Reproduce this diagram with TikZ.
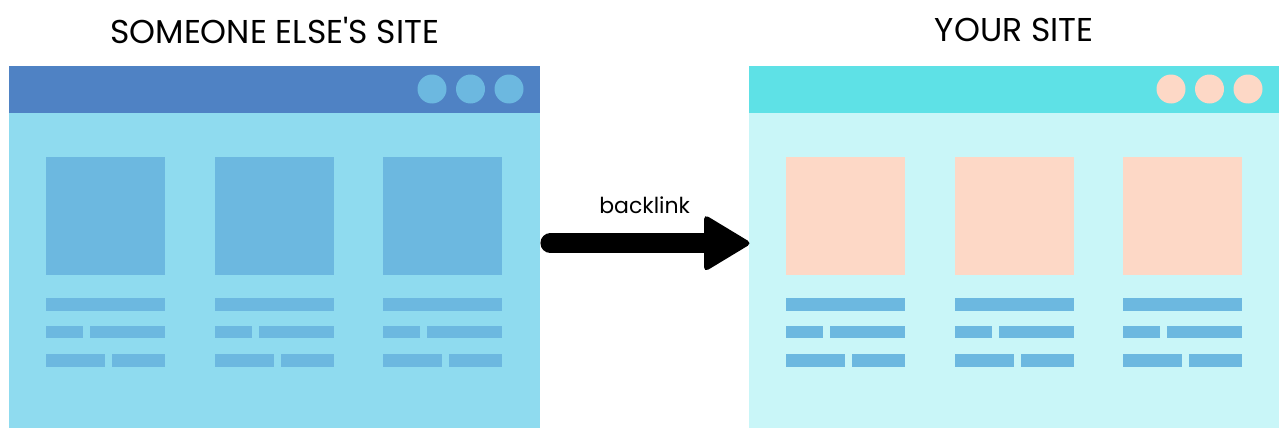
\documentclass[tikz,border=0pt]{standalone}
\usepackage{fontspec}
\setmainfont{Poppins}
\usetikzlibrary{positioning,calc}

\definecolor{otherbar}{HTML}{4F82C4}
\definecolor{otherbody}{HTML}{8FDBEF}
\definecolor{mybar}{HTML}{5EE1E6}
\definecolor{mybody}{HTML}{C9F6F8}
\definecolor{tileblue}{HTML}{6CB8E0}
\definecolor{tilepeach}{HTML}{FDD8C6}

\tikzset{
  window/.style={rectangle, inner sep=0pt, minimum height=362pt, anchor=north west},
  sitetitle/.style={font=\fontsize{33}{37}\selectfont, text=black},
  linklabel/.style={font=\fontsize{22}{26}\selectfont, text=black},
}

% one browser window: left x, width, bar colour, tile colour
\newcommand{\sitewindow}[4]{
  \fill[#3] (#1,66) rectangle ++(#2,47);
  \foreach \d in {1,2,3}
    \fill[#4] (#1+#2-\d*38.5+7.5,89) circle (14.5pt);
  \foreach \c in {37,206,374} {
    \fill[#4] (#1+\c,157) rectangle ++(119,118);
    % text lines
    \fill[tileblue] (#1+\c,298) rectangle ++(119,13);
    \fill[tileblue] (#1+\c,326) rectangle ++(37,12);
    \fill[tileblue] (#1+\c+44,326) rectangle ++(75,12);
    \fill[tileblue] (#1+\c,354) rectangle ++(59,13);
    \fill[tileblue] (#1+\c+66,354) rectangle ++(53,13);
  }
}

\begin{document}
\begin{tikzpicture}[x=1pt,y=-1pt]
  \useasboundingbox[fill=white] (0,0) rectangle (1279,428);

  \node[window, minimum width=531pt, fill=otherbody] (other) at (9,66) {};
  \node[window, minimum width=530pt, fill=mybody] (mine) at (749,66) {};
  \sitewindow{9}{531}{otherbar}{tileblue}
  \sitewindow{749}{530}{mybar}{tilepeach}

  \node[sitetitle] (othertitle) at ([yshift=36pt]other.north) {SOMEONE ELSE\textquotesingle S SITE};
  \node[sitetitle] (mytitle) at ([yshift=36pt]mine.north) {YOUR SITE};

  % the backlink arrow
  \coordinate (start) at ([yshift=4pt]other.east);
  \coordinate (tip) at ([yshift=4pt]mine.west);
  \draw[line width=20pt, line cap=round] ($(start)+(10,0)$) -- ($(tip)+(-40,0)$);
  \fill[rounded corners=5pt] ($(tip)+(-45,-29)$) -- ($(tip)+(3,0)$) -- ($(tip)+(-45,29)$) -- cycle;
  \path (start) -- (tip) node[midway, linklabel, yshift=38pt] (link) {backlink};
\end{tikzpicture}
\end{document}
